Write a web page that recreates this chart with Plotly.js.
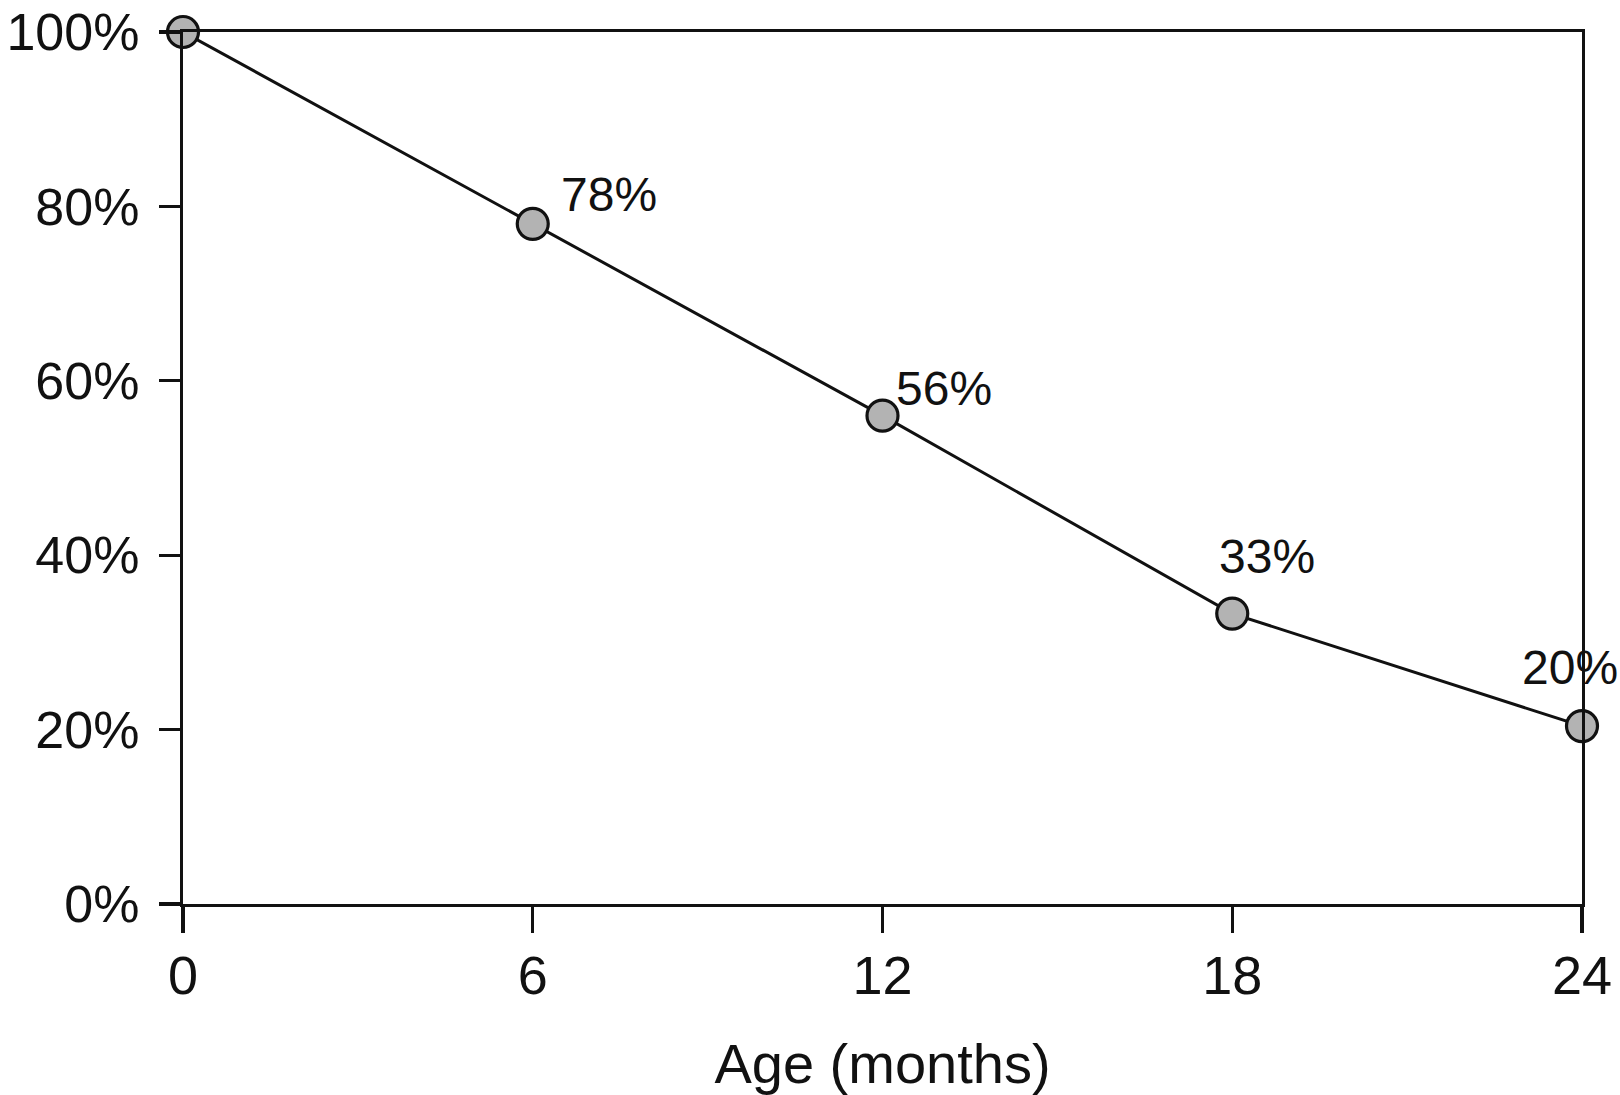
<!DOCTYPE html>
<html>
<head>
<meta charset="utf-8">
<script src="https://cdn.plot.ly/plotly-3.0.1.min.js"></script>
<style>html,body{margin:0;padding:0;background:#fff;}#chart{width:1620px;height:1095px;}</style>
</head>
<body>
<div id="chart"></div>
<script>
const ageMonths = [0, 6, 12, 18, 24];
const percentValues = [100, 78, 56, 33.3, 20.4];
const pointLabels = ["", "78%", "56%", "33%", "20%"];
const xTickVals = [0, 6, 12, 18, 24];
const xTickText = ["0", "6", "12", "18", "24"];
const yTickVals = [0, 20, 40, 60, 80, 100];
const yTickText = ["0%", "20%", "40%", "60%", "80%", "100%"];

const labelShifts = [[0,0],[76,29],[61,27],[35,57],[-12,59]];

const font = "Liberation Sans, Arial, Helvetica, sans-serif";

const trace = {
  x: ageMonths,
  y: percentValues,
  type: "scatter",
  mode: "lines+markers",
  line: {color: "#111", width: 3},
  marker: {size: 31, color: "#b3b3b3", line: {color: "#111", width: 3.2}},
  cliponaxis: false,
  hoverinfo: "skip"
};

const annotations = [];
for (let i = 0; i < ageMonths.length; i++) {
  if (!pointLabels[i]) continue;
  annotations.push({
    x: ageMonths[i], y: percentValues[i], xref: "x", yref: "y",
    text: pointLabels[i], showarrow: false,
    xshift: labelShifts[i][0], yshift: labelShifts[i][1],
    font: {family: font, size: 48, color: "#111"}
  });
}

const layout = {
  width: 1620, height: 1095,
  margin: {l: 183, r: 38, t: 32, b: 191},
  paper_bgcolor: "#fff", plot_bgcolor: "#fff",
  showlegend: false,
  font: {family: font, color: "#111"},
  xaxis: {
    range: [0, 24], tickvals: xTickVals, ticktext: xTickText,
    showgrid: false, zeroline: false,
    showline: true, linecolor: "#111", linewidth: 3.2, mirror: true,
    ticks: "outside", ticklen: 26, tickwidth: 3.2, tickcolor: "#111",
    tickfont: {family: font, size: 54, color: "#111"},
    ticklabelstandoff: -4,
    title: {text: "Age (months)", font: {family: font, size: 56, color: "#111"}, standoff: 62}
  },
  yaxis: {
    range: [0, 100], tickvals: yTickVals, ticktext: yTickText,
    showgrid: false, zeroline: false,
    showline: true, linecolor: "#111", linewidth: 3.2, mirror: true,
    ticks: "outside", ticklen: 21, tickwidth: 3.2, tickcolor: "#111",
    tickfont: {family: font, size: 52, color: "#111"},
    ticklabelstandoff: 9
  },
  annotations: annotations
};

Plotly.newPlot("chart", [trace], layout, {displayModeBar: false, staticPlot: true});
</script>
</body>
</html>
